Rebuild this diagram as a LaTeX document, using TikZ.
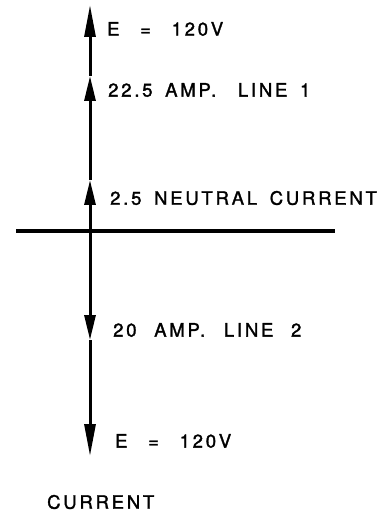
\documentclass[tikz,border=0pt]{standalone}
\usepackage{fontspec}
\setmainfont{TeX Gyre Heros}[LetterSpace=15,WordSpace=1.6,FakeBold=1.6]
\usetikzlibrary{arrows.meta}
\begin{document}
\begin{tikzpicture}[x=1pt,y=-1pt,
  wire/.style={line width=3pt},
  tipA/.style={-{Triangle[length=32pt,width=11pt]}},
  tipB/.style={-{Triangle[length=25pt,width=11pt]}},
  lbl/.style={anchor=west,inner sep=0pt,font=\fontsize{18.5}{22}\selectfont}]
\useasboundingbox (0,0) rectangle (391,518);
\coordinate (top) at (90,5);
\coordinate (a2) at (90,76);
\coordinate (a3) at (90,180);
\coordinate (x) at (90,231);
\coordinate (a4) at (90,340);
\coordinate (bot) at (90,456);
\coordinate (hl) at (16,231);
\coordinate (hr) at (335,231);
\draw[wire,tipA] (a2) -- (top);
\draw[wire,tipB] (a3) -- (a2);
\draw[wire,tipB] (x) -- (a3);
\draw[wire,tipB] (x) -- (a4);
\draw[wire,tipA] (a4) -- (bot);
\draw[line width=3.4pt] (hl) -- (hr);
\node[lbl] (t1) at (107,29) {E\hspace{8pt} =\hspace{8pt} 120V};
\node[lbl] (t2) at (108,90) {22.5 AMP.\hspace{9pt} LINE 1};
\node[lbl] (t3) at (110,198) {2.5 NEUTRAL CURRENT};
\node[lbl] (t4) at (113,330) {20\hspace{5pt} AMP.\hspace{6pt} LINE\hspace{5pt} 2};
\node[lbl] (t5) at (115,441) {E\hspace{8pt} =\hspace{8pt} 120V};
\node[lbl] (t6) at (47,502) {CURRENT};
\end{tikzpicture}
\end{document}
